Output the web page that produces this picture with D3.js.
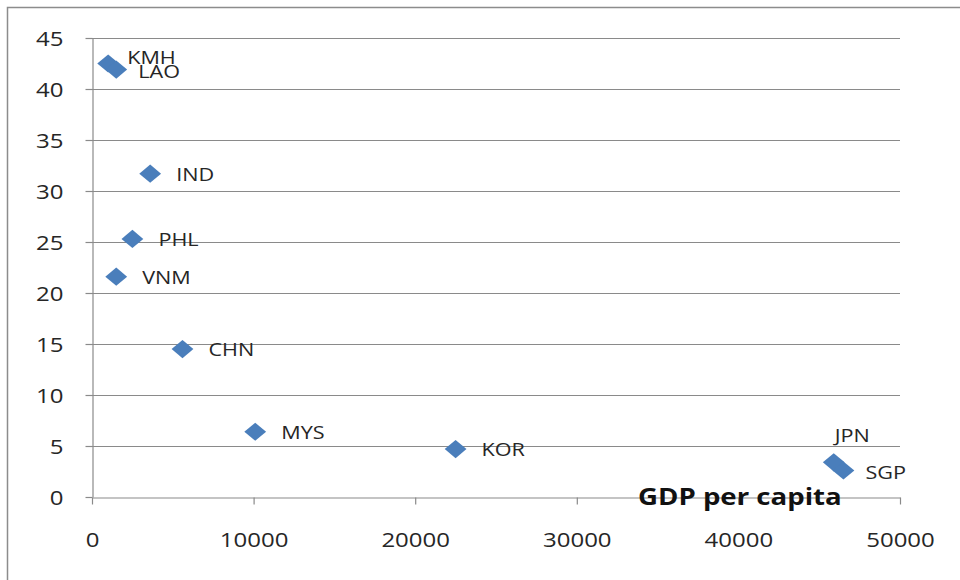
<!DOCTYPE html>
<html>
<head>
<meta charset="utf-8">
<script src="https://cdn.jsdelivr.net/npm/d3@7"></script>
<style>
  body { margin: 0; background: #fff; }
  svg { display: block; }
  .tick text { font-family: "Open Sans", sans-serif; fill: #262626; }
</style>
</head>
<body>
<svg id="chart" width="960" height="580"></svg>
<script>
// country codes, GDP per capita and the y value
var countries = ["KMH", "LAO", "IND", "PHL", "VNM", "CHN", "MYS", "KOR", "JPN", "SGP"];
var gdpValues = [1000, 1500, 3600, 2500, 1500, 5600, 10100, 22500, 45900, 46500];
var yValues = [42.5, 41.9, 31.7, 25.3, 21.6, 14.5, 6.4, 4.7, 3.4, 2.6];
var xTicks = [0, 10000, 20000, 30000, 40000, 50000];
var yTicks = [0, 5, 10, 15, 20, 25, 30, 35, 40, 45];

var svg = d3.select("#chart"),
	stretch = 1.2,
	blue = "#4a7ebb",
	gridColor = "#8a8a8a";

var x = d3.scaleLinear().domain([0, 50000]).range([92, 900]);
var y = d3.scaleLinear().domain([0, 45]).range([497, 38]);

// outer chart border (runs off the right and bottom of the picture)
svg.append("rect")
	.attr("x", 7.5).attr("y", 7.5)
	.attr("width", 1000).attr("height", 1000)
	.attr("fill", "none")
	.attr("stroke", "#8c8c8c")
	.attr("stroke-width", 1.5);

// horizontal gridlines
svg.append("g").selectAll("line").data(yTicks.filter(function (d) { return d > 0; }))
	.enter().append("line")
	.attr("x1", x.range()[0]).attr("x2", x.range()[1])
	.attr("y1", function (d) { return Math.round(y(d)) + 0.5; })
	.attr("y2", function (d) { return Math.round(y(d)) + 0.5; })
	.attr("stroke", gridColor)
	.attr("stroke-width", 1.2);

var yAxis = svg.append("g")
	.attr("transform", "translate(" + (x(0) + 0.5) + ",0)")
	.call(d3.axisLeft(y).tickValues(yTicks).tickSize(7).tickSizeOuter(0));

var xAxis = svg.append("g")
	.attr("transform", "translate(0," + (y(0) + 0.5) + ")")
	.call(d3.axisBottom(x).tickValues(xTicks).tickSize(7).tickSizeOuter(0).tickFormat(d3.format("d")));

[yAxis, xAxis].forEach(function (ax) {
	ax.select(".domain").attr("stroke", gridColor).attr("stroke-width", 1.2);
	ax.selectAll(".tick line").attr("stroke", gridColor).attr("stroke-width", 1.2);
	ax.selectAll(".tick text").attr("font-size", 20);
});

yAxis.selectAll(".tick text")
	.attr("x", null)
	.attr("dy", "0.35em")
	.attr("transform", "translate(-29,0) scale(" + stretch + ",1)");

xAxis.selectAll(".tick text")
	.attr("y", null)
	.attr("dy", "0.35em")
	.attr("transform", "translate(0,42) scale(" + stretch + ",1)");

// points: Excel-style diamonds, slightly wide
var diamond = d3.symbol().type(d3.symbolSquare).size(165);
var points = countries.map(function (c, i) {
	return { code: c, gdp: gdpValues[i], val: yValues[i] };
});

svg.append("g").selectAll("path").data(points)
	.enter().append("path")
	.attr("d", diamond)
	.attr("fill", blue)
	.attr("transform", function (d) {
		return "translate(" + x(d.gdp) + "," + y(d.val) + ") scale(" + stretch + ",1) rotate(45)";
	});

// label placement, as in the original sheet
var labelShift = {
	KMH: [19, -6],
	LAO: [22, 2],
	JPN: [1, -27],
	SGP: [22, 2]
};

svg.append("g").selectAll("text").data(points)
	.enter().append("text")
	.attr("font-family", "'Open Sans', sans-serif")
	.attr("font-size", 18)
	.attr("fill", "#262626")
	.attr("dy", "0.35em")
	.attr("transform", function (d) {
		var s = labelShift[d.code] || [26, 1];
		return "translate(" + (x(d.gdp) + s[0]) + "," + (y(d.val) + s[1]) + ") scale(" + stretch + ",1)";
	})
	.text(function (d) { return d.code; });

// axis title sitting on the x axis
svg.append("text")
	.attr("font-family", "'Open Sans', sans-serif")
	.attr("font-weight", "bold")
	.attr("font-size", 23)
	.attr("fill", "#111")
	.attr("transform", "translate(638,505) scale(" + stretch + ",1)")
	.text("GDP per capita");
</script>
</body>
</html>
